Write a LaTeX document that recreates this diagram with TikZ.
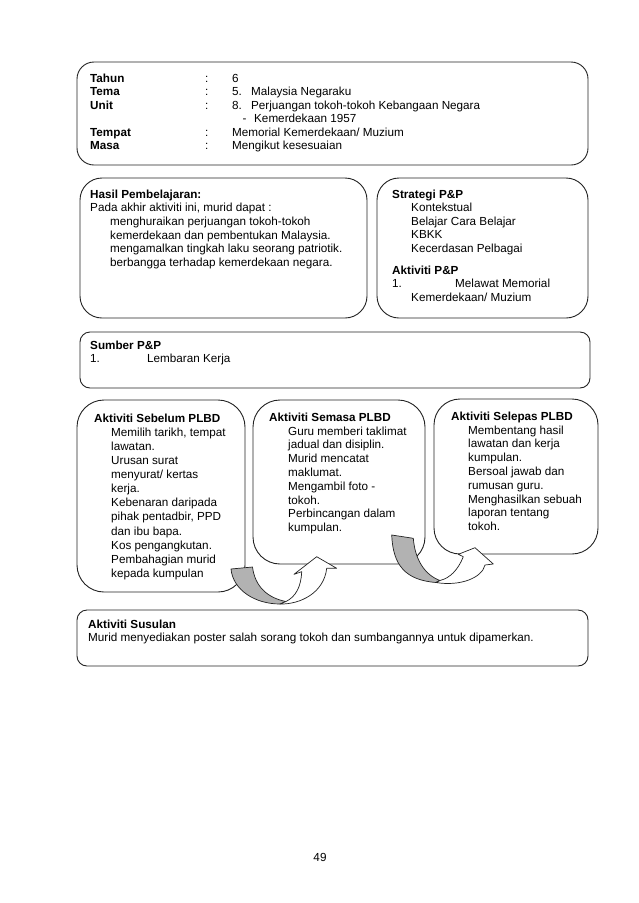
\documentclass[tikz,border=0pt]{standalone}
\usepackage{fontspec}
\setmainfont{Liberation Sans}
\usetikzlibrary{fit}
\definecolor{edge}{RGB}{35,35,35}
\definecolor{arrowgray}{RGB}{178,178,178}
\newcommand\mystrut{\rule{0pt}{9pt}}
\begin{document}
\begin{tikzpicture}[x=1pt,y=-1pt,
  box/.style={draw=edge, line width=0.9pt, fill=white, inner sep=0pt, rounded corners=#1},
  box/.default=15pt,
  ta/.style={anchor=north west, inner sep=0pt, align=left, font=\fontsize{11.7}{13.5}\selectfont},
  tb/.style={anchor=north west, inner sep=0pt, align=left, font=\fontsize{11.7}{13.6}\selectfont},
  tc/.style={anchor=north west, inner sep=0pt, align=left, font=\fontsize{11.7}{14.1}\selectfont},
  td/.style={anchor=north west, inner sep=0pt, align=left, font=\fontsize{11.7}{13.8}\selectfont},
  band/.style={fill=arrowgray, draw=edge, line width=0.7pt, line join=round},
  head/.style={fill=white, draw=edge, line width=0.7pt, line join=round}]
\fill[white] (0,0) rectangle (638,903);
\useasboundingbox (0,0) rectangle (638,903);
% boxes
\node[box=17pt, fit={(77,62) (588,165)}] (info) {};
\node[box=22pt, fit={(80,178) (367,318)}] (hasil) {};
\node[box=22pt, fit={(377,178) (588,318)}] (strategi) {};
\node[box=10pt, fit={(80,332) (590,388)}] (sumber) {};
\node[box=27pt, fit={(77,400) (245,592)}] (sebelum) {};
\node[box=27pt, fit={(253,400) (425,564)}] (semasa) {};
\node[box=26pt, fit={(434,399) (598,554)}] (selepas) {};
\node[box=10pt, fit={(77,610) (588,666)}] (susulan) {};
% info texts
\node[ta] (infolab) at (90,73) {\mystrut\textbf{Tahun}\\\textbf{Tema}\\\textbf{Unit}\\\mbox{}\\\textbf{Tempat}\\\textbf{Masa}};
\node[ta] (infocol) at (205,73) {\mystrut:\\:\\:\\\mbox{}\\:\\:};
\node[ta] (infoval) at (232,73) {\mystrut 6\\\makebox[19pt][l]{5.}Malaysia Negaraku\\\makebox[19pt][l]{8.}Perjuangan tokoh-tokoh Kebangaan Negara\\\hspace*{10.5pt}\makebox[11.5pt][l]{-}Kemerdekaan 1957\\Memorial Kemerdekaan/ Muzium\\Mengikut kesesuaian};
% hasil
\node[tb] (hasiltx) at (90,189) {\mystrut\textbf{Hasil Pembelajaran:}\\Pada akhir aktiviti ini, murid dapat :\\\hspace*{20pt}menghuraikan perjuangan tokoh-tokoh\\\hspace*{20pt}kemerdekaan dan pembentukan Malaysia.\\\hspace*{20pt}mengamalkan tingkah laku seorang patriotik.\\\hspace*{20pt}berbangga terhadap kemerdekaan negara.};
% strategi
\node[ta] (strattx) at (392,189) {\mystrut\textbf{Strategi P\&P}\\\hspace*{19pt}Kontekstual\\\hspace*{19pt}Belajar Cara Belajar\\\hspace*{19pt}KBKK\\\hspace*{19pt}Kecerdasan Pelbagai};
\node[ta] (aktpp) at (392,265) {\mystrut\textbf{Aktiviti P\&P}\\\makebox[63pt][l]{1.}Melawat Memorial\\\hspace*{19pt}Kemerdekaan/ Muzium};
% sumber
\node[ta] (sumbertx) at (90,340) {\mystrut\textbf{Sumber P\&P}\\\makebox[57pt][l]{1.}Lembaran Kerja};
% activities
\node[tc] (sebelumtx) at (94,413) {\mystrut\textbf{Aktiviti Sebelum PLBD}\\\hspace*{17pt}Memilih tarikh, tempat\\\hspace*{17pt}lawatan.\\\hspace*{17pt}Urusan surat\\\hspace*{17pt}menyurat/ kertas\\\hspace*{17pt}kerja.\\\hspace*{17pt}Kebenaran daripada\\\hspace*{17pt}pihak pentadbir, PPD\\\hspace*{17pt}dan ibu bapa.\\\hspace*{17pt}Kos pengangkutan.\\\hspace*{17pt}Pembahagian murid\\\hspace*{17pt}kepada kumpulan};
\node[td] (semasatx) at (269,412) {\mystrut\textbf{Aktiviti Semasa PLBD}\\\hspace*{19pt}Guru memberi taklimat\\\hspace*{19pt}jadual dan disiplin.\\\hspace*{19pt}Murid mencatat\\\hspace*{19pt}maklumat.\\\hspace*{19pt}Mengambil foto -\\\hspace*{19pt}tokoh.\\\hspace*{19pt}Perbincangan dalam\\\hspace*{19pt}kumpulan.};
\node[td] (selepastx) at (451,411) {\mystrut\textbf{Aktiviti Selepas PLBD}\\\hspace*{17pt}Membentang hasil\\\hspace*{17pt}lawatan dan kerja\\\hspace*{17pt}kumpulan.\\\hspace*{17pt}Bersoal jawab dan\\\hspace*{17pt}rumusan guru.\\\hspace*{17pt}Menghasilkan sebuah\\\hspace*{17pt}laporan tentang\\\hspace*{17pt}tokoh.};
% susulan
\node[ta] (susulantx) at (88,619) {\mystrut\textbf{Aktiviti Susulan}\\Murid menyediakan poster salah sorang tokoh dan sumbangannya untuk dipamerkan.};
% curved arrows
\draw[band] (231,569) -- (252.5,567) .. controls (255,587) and (268,598) .. (286,601.5) -- (280,604) .. controls (255,604) and (233,590) .. (231,569) -- cycle;
\draw[head] (280,604) .. controls (300,604.5) and (324,593) .. (326.7,568.3) -- (336.7,568.3) -- (316.7,556.7) -- (294,574.3) -- (301.7,571.7) .. controls (301,588) and (295,597) .. (286,601.5) -- cycle;
\draw[band] (391.7,535) -- (413.3,538.3) .. controls (415,560) and (425,575) .. (440,580.5) -- (436,582.5) .. controls (405,580) and (393,565) .. (391.7,535) -- cycle;
\draw[head] (436,582.5) .. controls (460,586.5) and (482,578) .. (485,565) -- (493.3,564) -- (475,547.7) -- (458.3,554.3) -- (463.3,556.7) .. controls (458,570) and (450,578) .. (440,580.5) -- cycle;
% page number
\node[anchor=north, inner sep=0pt, font=\fontsize{11.7}{14}\selectfont] (pagenum) at (320,852) {\mystrut 49};
\end{tikzpicture}
\end{document}
